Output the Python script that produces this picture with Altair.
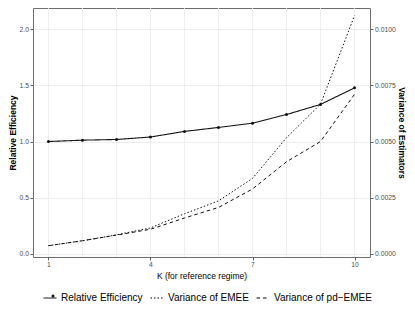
import altair as alt
import pandas as pd

# ---- data ----
K = [1, 2, 3, 4, 5, 6, 7, 8, 9, 10]
rel_eff = [1.00, 1.012, 1.018, 1.04, 1.09, 1.125, 1.163, 1.24, 1.33, 1.477]
var_emee = [0.00037, 0.00059, 0.00085, 0.00116, 0.00179, 0.00236, 0.00336, 0.00517, 0.00666, 0.0106]
var_pd = [0.00037, 0.00059, 0.00084, 0.00110, 0.00160, 0.00207, 0.00289, 0.00410, 0.00500, 0.0071]

series_names = ["Relative Efficiency", "Variance of EMEE", "Variance of pd\u2212EMEE"]
x_grid_ticks = [1, 2, 3, 4, 5, 6, 7, 8, 9, 10]
x_label_ticks = [1, 4, 7, 10]
y_left_ticks = [0, 0.25, 0.5, 0.75, 1.0, 1.25, 1.5, 1.75, 2.0]
y_right_ticks = [0, 0.0025, 0.005, 0.0075, 0.01]

re_df = pd.DataFrame({"K": K, "value": rel_eff, "series": series_names[0]})
var_df = pd.concat([
    pd.DataFrame({"K": K, "value": var_emee, "series": series_names[1]}),
    pd.DataFrame({"K": K, "value": var_pd, "series": series_names[2]}),
])
grid_df = pd.DataFrame({"K": x_grid_ticks})

FONT = "Liberation Sans"
left_dom = [-0.0267, 2.187]
right_dom = [left_dom[0] / 200, left_dom[1] / 200]
x_dom = [0.545, 10.455]

ylabel_test = "abs(datum.value*2 - round(datum.value*2)) < 1e-6"

dash_scale = alt.Scale(domain=series_names, range=[[1, 0], [1.5, 2], [3.5, 3]])

LEG_X = 10
LEG_Y = 283

legend = alt.Legend(
    title=None,
    orient="none",
    legendX=LEG_X,
    legendY=LEG_Y,
    direction="horizontal",
    symbolType="stroke",
    symbolSize=169,
    symbolStrokeWidth=1,
    symbolStrokeColor="black",
    labelFont=FONT,
    labelFontSize=10,
    labelColor="black",
    labelOffset=4,
    columnPadding=5,
)

# overlay legend that only supplies the dot on the first legend key
dot_legend = alt.Legend(
    title=None,
    orient="none",
    legendX=LEG_X + 5,
    legendY=LEG_Y,
    symbolType="circle",
    symbolSize=9,
    symbolFillColor="black",
    symbolStrokeColor="black",
    symbolStrokeWidth=0.5,
    labelFont=FONT,
    labelFontSize=10,
    labelExpr="''",
    labelColor="transparent",
)

x_scale = alt.Scale(domain=x_dom, nice=False, zero=False)

# vertical grid lines at every K
vgrid = alt.Chart(grid_df).mark_rule(color="#EBEBEB", strokeWidth=0.9).encode(
    x=alt.X(
        "K:Q",
        scale=x_scale,
        axis=alt.Axis(
            values=x_label_ticks,
            grid=False,
            title="K (for reference regime)",
            titleFontWeight="normal",
            labelFlush=False,
            titlePadding=3,
        ),
    ),
)

base_re = alt.Chart(re_df)
re_line = base_re.mark_line(color="#111111", strokeWidth=1.1).encode(
    x="K:Q",
    y=alt.Y(
        "value:Q",
        scale=alt.Scale(domain=left_dom, nice=False, zero=False),
        axis=alt.Axis(
            values=y_left_ticks,
            format=".1f",
            labelExpr=f"({ylabel_test}) ? datum.label : ''",
            tickColor={"condition": {"test": ylabel_test, "value": "#333333"}, "value": "transparent"},
            title="Relative Efficiency",
            titleFontWeight="bold",
            titlePadding=2,
            labelOverlap=False,
        ),
    ),
    strokeDash=alt.StrokeDash("series:N", scale=dash_scale, legend=legend),
)
re_pts = base_re.mark_point(filled=True, color="#111111", size=9, opacity=1).encode(
    x="K:Q",
    y="value:Q",
    shape=alt.Shape("series:N", scale=alt.Scale(domain=series_names[:1], range=["circle"]), legend=dot_legend),
)

var_lines = alt.Chart(var_df).mark_line(color="#111111", strokeWidth=1).encode(
    x="K:Q",
    y=alt.Y(
        "value:Q",
        scale=alt.Scale(domain=right_dom, nice=False, zero=False),
        axis=alt.Axis(
            orient="right",
            values=y_right_ticks,
            format=".4f",
            grid=False,
            title="Variance of Estimators",
            titleFontWeight="bold",
            titlePadding=1,
            labelOverlap=False,
        ),
    ),
    strokeDash=alt.StrokeDash("series:N", scale=dash_scale, legend=legend),
)

left_layer = alt.layer(vgrid, re_line, re_pts)
chart = (
    alt.layer(left_layer, var_lines)
    .resolve_scale(y="independent")
    .properties(
        width=337,
        height=249,
        padding={"left": 25, "right": 37, "top": 0, "bottom": 47},
        autosize=alt.AutoSizeParams(type="none"),
        background="white",
    )
    .configure_view(stroke="#6e6e6e", strokeWidth=1)
    .configure_axis(
        domain=False,
        grid=True,
        gridColor="#EBEBEB",
        gridWidth=0.9,
        tickSize=3,
        tickWidth=0.8,
        tickColor="#333333",
        labelFont=FONT,
        labelFontSize=6.8,
        labelColor="#4D4D4D",
        labelPadding=1.5,
        titleFont=FONT,
        titleFontSize=8.5,
        titleColor="black",
    )
)

chart.save("out.html", embed_options={"renderer": "svg", "actions": False})
